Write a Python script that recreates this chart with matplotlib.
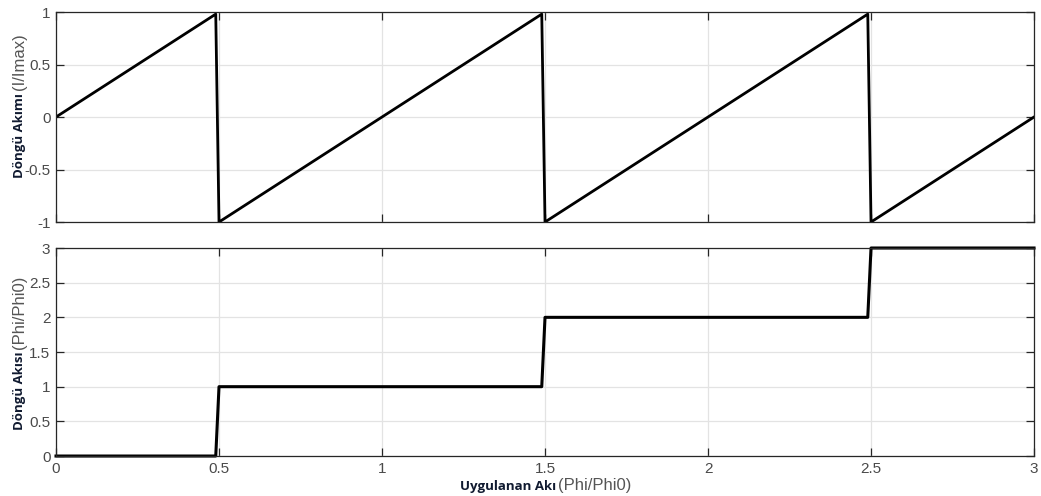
import numpy as np
import matplotlib
matplotlib.use("Agg")
import matplotlib.pyplot as plt

# applied flux (Phi/Phi0) breakpoints and the traced values
flux_x = [0.0, 0.49, 0.50, 1.49, 1.50, 2.49, 2.50, 3.0]
loop_current = [0.0, 0.98, -1.0, 0.98, -1.0, 0.98, -1.0, 0.0]
loop_flux_x = [0.0, 0.49, 0.50, 1.49, 1.50, 2.49, 2.50, 3.0]
loop_flux = [0.0, 0.0, 1.0, 1.0, 2.0, 2.0, 3.0, 3.0]

x_ticks = [0, 0.5, 1, 1.5, 2, 2.5, 3]
y_ticks_top = [-1, -0.5, 0, 0.5, 1]
y_ticks_bot = [0, 0.5, 1, 1.5, 2, 2.5, 3]

plt.rcParams["font.family"] = ["Liberation Sans", "DejaVu Sans"]
BOLD_FONT = ["Open Sans", "DejaVu Sans"]

fig = plt.figure(figsize=(10.41, 4.96), dpi=100)
ax1 = fig.add_axes([0.0538, 0.5524, 0.9395, 0.4234])
ax2 = fig.add_axes([0.0538, 0.0806, 0.9395, 0.4194])


def style(ax, yticks, show_x):
    ax.set_xlim(0, 3)
    ax.set_xticks(x_ticks)
    ax.set_yticks(yticks)
    ax.set_ylim(yticks[0], yticks[-1])
    ax.grid(True, color="#e3e3e3", linewidth=0.9)
    ax.set_axisbelow(True)
    ax.tick_params(direction="in", top=True, right=True, length=6,
                   width=0.9, colors="#262626", labelcolor="#4a4a4a",
                   labelsize=11, pad=4)
    ax.set_yticklabels([f"{v:g}" for v in yticks])
    if show_x:
        ax.set_xticklabels([f"{v:g}" for v in x_ticks])
    else:
        ax.set_xticklabels([])
    for s in ax.spines.values():
        s.set_color("#262626")
        s.set_linewidth(0.9)


ax1.plot(flux_x, loop_current, color="black", linewidth=2.0)
ax2.plot(loop_flux_x, loop_flux, color="black", linewidth=2.2, clip_on=False)
style(ax1, y_ticks_top, False)
style(ax2, y_ticks_bot, True)

# two-part axis labels: bold Turkish name + plain unit, chained end to end
fig.canvas.draw()
renderer = fig.canvas.get_renderer()
inv = fig.transFigure.inverted()


def vlabel(x, y, bold, plain):
    t = fig.text(x, y, bold, rotation=90, ha="center", va="bottom",
                 fontsize=9.5, fontweight="bold", color="#101a30",
                 family=BOLD_FONT)
    bb = t.get_window_extent(renderer)
    top = inv.transform((0, bb.y1 + 3))[1]
    fig.text(x, top, plain, rotation=90, ha="center", va="bottom",
             fontsize=12, color="#555555")


def hlabel(x, y, bold, plain):
    t = fig.text(x, y, bold, ha="left", va="baseline", fontsize=9.5,
                 fontweight="bold", color="#101a30", family=BOLD_FONT)
    bb = t.get_window_extent(renderer)
    right = inv.transform((bb.x1 + 2, 0))[0]
    fig.text(right, y, plain, ha="left", va="baseline", fontsize=12,
             color="#555555")


vlabel(0.0185, 0.641, "Döngü Akımı", "(I/Imax)")
vlabel(0.0185, 0.133, "Döngü Akısı", "(Phi/Phi0)")
hlabel(0.442, 0.013, "Uygulanan Akı", "(Phi/Phi0)")

fig.savefig("out.png", dpi=100)
